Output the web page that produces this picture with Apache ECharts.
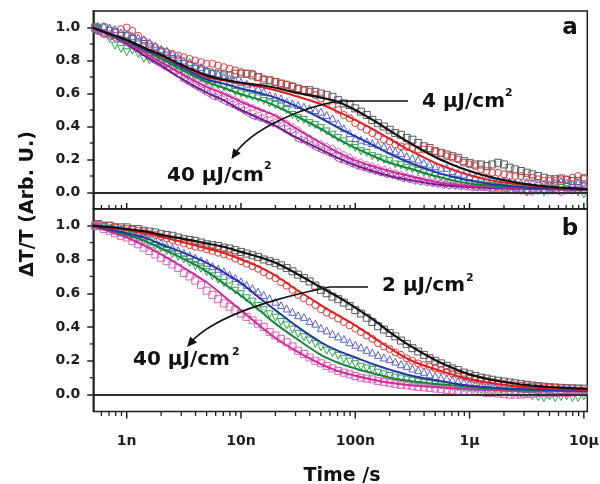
<!DOCTYPE html>
<html><head><meta charset="utf-8">
<script src="https://cdn.jsdelivr.net/npm/echarts@6/dist/echarts.min.js"></script>
<style>html,body{margin:0;padding:0;background:#fff}#c{width:600px;height:484px}</style>
</head><body><div id="c"></div>
<script>
// ---- sample times (ns) ----
const tNs = [0.53,0.56,0.63,0.71,0.79,0.89,
  1,1.12,1.26,1.41,1.58,1.78,2,2.24,2.51,2.82,3.16,3.55,3.98,4.47,5.01,5.62,6.31,7.08,7.94,8.91,
  10,11.2,12.6,14.1,15.8,17.8,20,22.4,25.1,28.2,31.6,35.5,39.8,44.7,50.1,56.2,63.1,70.8,79.4,89.1,
  100,112,126,141,158,178,200,224,251,282,316,355,398,447,501,562,631,708,794,891,
  1000,1120,1260,1410,1580,1780,2000,2240,2510,2820,3160,3550,3980,4470,5010,5620,6310,7080,7940,8910,10000];
const tFitNs = [0.5,0.75,1,1.5,2,3,5,7,10,15,20,30,50,70,100,150,200,300,500,700,1000,1500,2000,3000,5000,7000,10000,10800];

// ---- tick labels ----
const xTickLabels = {'-9':'1n','-8':'10n','-7':'100n','-6':'1μ','-5':'10μ'};
const xMajorTickNs = [1,10,100,1000,10000];
const xMinorTickNs = [0.6,0.7,0.8,0.9,2,3,4,5,6,7,8,9,20,30,40,50,60,70,80,90,200,300,400,500,600,700,800,900,2000,3000,4000,5000,6000,7000,8000,9000];
const yTickValues = [0,0.2,0.4,0.6,0.8,1.0];
const yTickLabels = ['0.0','0.2','0.4','0.6','0.8','1.0'];
const yMinorTicks = [0.1,0.3,0.5,0.7,0.9];

// ---- panel a: measured points ----
const aBlackPts = [1.00,0.99,1.00,0.98,0.97,0.95,0.95,0.93,0.91,0.90,
  0.88,0.86,0.85,0.83,0.81,0.80,0.78,0.77,0.75,0.74,
  0.73,0.72,0.72,0.71,0.71,0.72,0.72,0.72,0.71,0.70,
  0.68,0.68,0.67,0.66,0.65,0.64,0.63,0.62,0.62,0.61,
  0.60,0.59,0.58,0.56,0.54,0.53,0.51,0.49,0.47,0.44,
  0.42,0.40,0.38,0.36,0.35,0.33,0.32,0.30,0.28,0.27,
  0.25,0.24,0.23,0.22,0.21,0.19,0.18,0.17,0.17,0.16,
  0.17,0.18,0.17,0.15,0.14,0.13,0.12,0.11,0.10,0.09,
  0.08,0.08,0.085,0.075,0.07,0.07,0.08];
const aRedPts = [1.00,0.98,0.96,0.95,0.97,0.99,1.00,0.98,0.95,0.92,
  0.90,0.88,0.86,0.85,0.84,0.83,0.82,0.81,0.80,0.79,
  0.78,0.78,0.77,0.76,0.75,0.74,0.73,0.72,0.72,0.70,
  0.69,0.68,0.67,0.66,0.655,0.645,0.63,0.62,0.61,0.59,
  0.57,0.55,0.53,0.50,0.47,0.45,0.42,0.40,0.38,0.36,
  0.34,0.32,0.31,0.29,0.28,0.275,0.27,0.26,0.26,0.26,
  0.25,0.24,0.22,0.21,0.20,0.18,0.17,0.16,0.14,0.13,
  0.12,0.12,0.11,0.10,0.10,0.10,0.09,0.09,0.08,0.07,
  0.07,0.07,0.08,0.08,0.09,0.10,0.09];
const aBluePts = [1.00,1.01,1.01,1.00,0.99,0.97,0.96,0.95,0.94,0.93,
  0.91,0.89,0.87,0.86,0.84,0.82,0.80,0.79,0.77,0.76,
  0.74,0.73,0.72,0.70,0.69,0.68,0.67,0.66,0.64,0.63,
  0.61,0.59,0.58,0.57,0.55,0.54,0.53,0.52,0.51,0.50,
  0.49,0.47,0.45,0.42,0.39,0.36,0.33,0.32,0.31,0.30,
  0.29,0.28,0.26,0.25,0.24,0.22,0.21,0.20,0.18,0.17,
  0.16,0.15,0.15,0.13,0.12,0.11,0.10,0.095,0.09,0.085,
  0.08,0.075,0.07,0.065,0.06,0.06,0.065,0.06,0.06,0.05,
  0.05,0.06,0.07,0.06,0.05,0.06,0.05];
const aGreenPts = [1.00,0.98,0.96,0.93,0.89,0.87,0.85,0.86,0.84,0.81,
  0.80,0.81,0.80,0.78,0.77,0.75,0.73,0.72,0.70,0.69,
  0.67,0.66,0.65,0.64,0.63,0.61,0.60,0.59,0.58,0.57,
  0.555,0.54,0.53,0.52,0.50,0.47,0.45,0.44,0.42,0.41,
  0.39,0.37,0.35,0.33,0.31,0.29,0.27,0.25,0.24,0.22,
  0.21,0.20,0.19,0.17,0.165,0.15,0.14,0.13,0.12,0.11,
  0.10,0.09,0.08,0.07,0.065,0.06,0.05,0.05,0.045,0.04,
  0.04,0.035,0.03,0.03,0.02,0.01,0.00,0.01,0.01,0.00,
  0.02,0.02,0.03,0.02,0.01,0.00,-0.01];
const aMagentaPts = [0.99,0.98,0.97,0.96,0.94,0.93,0.91,0.89,0.87,0.85,
  0.83,0.81,0.79,0.78,0.76,0.74,0.72,0.70,0.68,0.66,
  0.64,0.62,0.61,0.60,0.58,0.565,0.55,0.53,0.515,0.50,
  0.485,0.47,0.46,0.44,0.42,0.40,0.38,0.35,0.33,0.31,
  0.295,0.28,0.27,0.25,0.23,0.215,0.195,0.185,0.17,0.16,
  0.15,0.14,0.13,0.12,0.11,0.10,0.09,0.085,0.075,0.07,
  0.065,0.06,0.055,0.05,0.045,0.04,0.035,0.03,0.03,0.03,
  0.02,0.02,0.02,0.01,0.01,0.01,0.00,0.00,0.01,0.02,
  0.01,0.01,0.00,0.01,0.02,0.01,0.02];
const aPurplePts = [0.98,0.97,0.96,0.95,0.93,0.92,0.90,0.88,0.86,0.84,
  0.81,0.79,0.77,0.75,0.73,0.71,0.68,0.66,0.64,0.62,
  0.60,0.58,0.57,0.55,0.535,0.52,0.50,0.48,0.46,0.45,
  0.44,0.42,0.41,0.39,0.37,0.35,0.32,0.31,0.29,0.27,
  0.255,0.24,0.225,0.20,0.19,0.175,0.16,0.15,0.14,0.13,
  0.12,0.11,0.105,0.095,0.085,0.08,0.07,0.065,0.06,0.055,
  0.05,0.045,0.04,0.04,0.035,0.035,0.03,0.03,0.03,0.025,
  0.02,0.02,0.02,0.015,0.02,0.02,0.01,0.015,0.02,0.01,
  0.02,0.01,0.01,0.02,0.02,0.02,0.03];

// ---- panel a: fitted curves ----
const aBlackFit = [1.0,0.955,0.925,0.87,0.835,0.775,0.71,0.685,0.665,0.65,0.635,0.605,0.575,0.55,0.50,0.43,0.375,0.30,0.215,0.17,0.13,0.095,0.075,0.052,0.035,0.028,0.022,0.02];
const aRedFit = [1.0,0.955,0.925,0.87,0.83,0.77,0.70,0.68,0.66,0.64,0.62,0.585,0.535,0.49,0.44,0.375,0.325,0.255,0.18,0.14,0.105,0.075,0.06,0.045,0.032,0.026,0.02,0.02];
const aBlueFit = [1.0,0.955,0.92,0.86,0.825,0.76,0.685,0.66,0.63,0.60,0.575,0.525,0.45,0.395,0.34,0.28,0.235,0.18,0.125,0.097,0.072,0.052,0.043,0.032,0.025,0.022,0.018,0.018];
const aGreenFit = [1.0,0.95,0.915,0.855,0.81,0.745,0.67,0.635,0.595,0.56,0.525,0.465,0.385,0.325,0.27,0.215,0.18,0.145,0.10,0.075,0.055,0.042,0.036,0.03,0.025,0.022,0.018,0.018];
const aMagentaFit = [1.0,0.95,0.91,0.84,0.79,0.72,0.64,0.60,0.55,0.50,0.465,0.39,0.30,0.245,0.195,0.155,0.13,0.10,0.066,0.05,0.04,0.035,0.03,0.027,0.023,0.02,0.018,0.018];
const aPurpleFit = [1.0,0.945,0.90,0.82,0.77,0.69,0.605,0.56,0.50,0.445,0.405,0.335,0.26,0.21,0.165,0.125,0.10,0.075,0.05,0.04,0.033,0.028,0.025,0.022,0.02,0.018,0.016,0.016];

// ---- panel b: measured points ----
const bBlackPts = [1.00,1.01,1.00,1.00,0.99,0.99,0.99,0.98,0.98,0.97,
  0.965,0.96,0.95,0.945,0.94,0.93,0.92,0.915,0.91,0.90,
  0.89,0.885,0.88,0.87,0.865,0.855,0.845,0.835,0.825,0.815,
  0.80,0.79,0.78,0.765,0.75,0.73,0.71,0.69,0.67,0.645,
  0.62,0.60,0.58,0.565,0.545,0.525,0.50,0.48,0.455,0.43,
  0.405,0.385,0.365,0.345,0.32,0.30,0.275,0.255,0.235,0.215,
  0.20,0.185,0.17,0.155,0.145,0.13,0.12,0.11,0.10,0.095,
  0.088,0.082,0.077,0.072,0.067,0.062,0.058,0.054,0.05,0.047,
  0.044,0.042,0.04,0.038,0.037,0.036,0.035];
const bRedPts = [1.00,1.01,1.00,1.00,0.99,0.98,0.98,0.975,0.97,0.96,
  0.95,0.945,0.935,0.925,0.915,0.905,0.895,0.885,0.875,0.87,
  0.86,0.85,0.84,0.83,0.82,0.805,0.79,0.775,0.76,0.745,
  0.725,0.705,0.69,0.665,0.645,0.62,0.59,0.57,0.55,0.53,
  0.505,0.485,0.47,0.45,0.43,0.41,0.39,0.37,0.35,0.33,
  0.305,0.285,0.27,0.25,0.235,0.215,0.20,0.185,0.175,0.165,
  0.155,0.145,0.135,0.125,0.115,0.105,0.095,0.088,0.082,0.077,
  0.072,0.067,0.062,0.058,0.055,0.052,0.049,0.047,0.045,0.043,
  0.041,0.04,0.038,0.037,0.036,0.035,0.034];
const bBluePts = [1.00,1.01,1.00,0.99,0.98,0.98,0.97,0.96,0.95,0.94,
  0.92,0.91,0.90,0.88,0.87,0.855,0.84,0.825,0.81,0.795,
  0.78,0.76,0.745,0.73,0.71,0.69,0.67,0.65,0.63,0.61,
  0.59,0.57,0.55,0.53,0.51,0.49,0.47,0.46,0.435,0.42,
  0.395,0.38,0.36,0.345,0.33,0.31,0.295,0.28,0.265,0.25,
  0.235,0.22,0.21,0.195,0.18,0.17,0.155,0.145,0.135,0.12,
  0.11,0.10,0.095,0.088,0.08,0.073,0.066,0.062,0.057,0.052,
  0.048,0.045,0.042,0.04,0.038,0.035,0.033,0.032,0.031,0.03,
  0.029,0.028,0.027,0.026,0.026,0.025,0.025];
const bGreenPts = [1.00,1.00,0.99,0.98,0.97,0.96,0.95,0.94,0.92,0.91,
  0.895,0.88,0.865,0.85,0.83,0.815,0.80,0.78,0.76,0.745,
  0.725,0.70,0.68,0.66,0.64,0.615,0.595,0.57,0.55,0.525,
  0.50,0.475,0.455,0.43,0.41,0.385,0.36,0.34,0.32,0.30,
  0.28,0.26,0.245,0.23,0.21,0.195,0.18,0.165,0.155,0.145,
  0.13,0.12,0.11,0.10,0.095,0.088,0.08,0.073,0.068,0.064,
  0.06,0.055,0.05,0.045,0.042,0.038,0.035,0.032,0.028,0.025,
  0.022,0.02,0.016,0.012,0.008,0.005,0.0,-0.01,-0.015,-0.02,
  -0.01,-0.02,-0.015,-0.01,-0.02,-0.02,-0.01];
const bMagentaPts = [1.00,1.00,0.98,0.97,0.955,0.94,0.93,0.91,0.89,0.87,
  0.85,0.83,0.81,0.79,0.77,0.75,0.72,0.70,0.675,0.65,
  0.615,0.59,0.565,0.54,0.52,0.50,0.48,0.46,0.44,0.42,
  0.40,0.37,0.35,0.33,0.31,0.285,0.26,0.24,0.22,0.20,
  0.185,0.17,0.155,0.14,0.13,0.12,0.11,0.10,0.095,0.09,
  0.08,0.075,0.07,0.063,0.058,0.055,0.05,0.046,0.043,0.04,
  0.036,0.032,0.028,0.025,0.022,0.02,0.02,0.017,0.014,0.01,
  0.01,0.007,0.004,0.0,0.0,0.0,0.003,0.006,0.01,0.01,
  0.006,0.01,0.012,0.01,0.013,0.016,0.02];

// ---- panel b: fitted curves ----
const bBlackFit = [1.0,0.99,0.98,0.965,0.945,0.925,0.895,0.875,0.845,0.81,0.78,0.72,0.635,0.58,0.515,0.435,0.37,0.29,0.205,0.16,0.12,0.09,0.075,0.058,0.045,0.04,0.035,0.034];
const bRedFit = [1.0,0.985,0.975,0.955,0.935,0.905,0.865,0.84,0.80,0.75,0.705,0.625,0.53,0.47,0.41,0.33,0.275,0.205,0.15,0.12,0.09,0.07,0.058,0.045,0.036,0.032,0.028,0.027];
const bBlueFit = [1.0,0.975,0.955,0.925,0.89,0.845,0.78,0.725,0.66,0.565,0.50,0.41,0.31,0.26,0.22,0.175,0.148,0.115,0.085,0.068,0.052,0.042,0.036,0.031,0.027,0.025,0.023,0.023];
const bGreenFit = [1.0,0.97,0.945,0.905,0.865,0.81,0.73,0.66,0.585,0.49,0.42,0.335,0.235,0.19,0.155,0.122,0.10,0.08,0.063,0.055,0.045,0.037,0.033,0.028,0.025,0.023,0.021,0.021];
const bMagentaFit = [1.0,0.96,0.93,0.875,0.83,0.76,0.665,0.585,0.50,0.40,0.335,0.26,0.18,0.14,0.112,0.085,0.07,0.056,0.045,0.038,0.032,0.028,0.025,0.022,0.02,0.02,0.02,0.02];

// ---- rendering ----
const FONT = '"DejaVu Sans", "Liberation Sans", Arial, sans-serif';
const AX = '#1e1e1e';
const X_MIN = 5.1e-10, X_MAX = 1.072e-5;
const pts = vals => vals.map((v, i) => [tNs[i] * 1e-9, v]);
const fit = vals => vals.map((v, i) => [tFitNs[i] * 1e-9, v]);

const xLabel = v => {
  const l = Math.log10(v), r = Math.round(l);
  if (Math.abs(l - r) > 1e-3) return '';
  return xTickLabels[String(r)] || '';
};
const yLabel = v => {
  for (let i = 0; i < yTickValues.length; i++) if (Math.abs(v - yTickValues[i]) < 1e-6) return yTickLabels[i];
  return '';
};

const C = {
  blackM:'#5a5a5a', redM:'#e8383d', blueM:'#5565c8', greenM:'#2fa552', magM:'#e262b6', purM:'#a850b8',
  blackL:'#111111', redL:'#e01f1f', blueL:'#2636a8', greenL:'#10883a', magL:'#d02a9c', purL:'#7a1a8c'
};

function marker(grid, data, color, symbol, rot) {
  return { type:'scatter', xAxisIndex:grid, yAxisIndex:grid, data:pts(data), symbol:symbol, symbolSize:7,
    symbolRotate: rot || 0, silent:true, clip:true,
    itemStyle:{ color:'rgba(0,0,0,0)', borderColor:color, borderWidth:1, opacity:1 } };
}
function fitLine(grid, data, color, w) {
  return { type:'line', xAxisIndex:grid, yAxisIndex:grid, data:fit(data), showSymbol:false, symbol:'none',
    smooth:0.35, silent:true, clip:true, lineStyle:{ color:color, width:w || 2 } };
}
function tickSeries(grid, values, isX, size, offset, withZero) {
  const data = isX ? values.map(t => [t * 1e-9, -0.1]) : values.map(v => [X_MIN, v]);
  const s = { type:'scatter', xAxisIndex:grid, yAxisIndex:grid, data:data, symbol:'rect', symbolSize:size,
    symbolOffset:offset, silent:true, clip:false, z:5, itemStyle:{ color:AX, opacity:1 } };
  if (withZero) s.markLine = { silent:true, symbol:'none', label:{show:false}, animation:false,
    lineStyle:{ color:AX, width:1.5, type:'solid' }, data:[{ yAxis:0 }] };
  return s;
}

function xAxisCfg(grid, showLabels) {
  return { gridIndex:grid, type:'log', logBase:10, min:X_MIN, max:X_MAX,
    axisLine:{ show:true, lineStyle:{ color:AX, width:1.5 } }, axisTick:{ show:false },
    minorTick:{ show:false }, splitLine:{ show:false }, minorSplitLine:{ show:false },
    axisLabel:{ show:showLabels, formatter:xLabel, color:AX, fontFamily:FONT, fontWeight:'bold', fontSize:14, margin:23 } };
}
function yAxisCfg(grid) {
  return { gridIndex:grid, type:'value', min:-0.1, max:1.1,
    axisLine:{ show:true, lineStyle:{ color:AX, width:1.5 } },
    axisTick:{ show:true, inside:false, length:6, lineStyle:{ color:AX, width:1.5 }, customValues:yTickValues },
    splitLine:{ show:false },
    axisLabel:{ show:true, customValues:yTickValues, formatter:yLabel, color:AX, fontFamily:FONT, fontWeight:'bold', fontSize:14, margin:13 } };
}

// annotation helpers
function arrowHead(tip, from, len, half) {
  const dx = tip[0] - from[0], dy = tip[1] - from[1], d = Math.hypot(dx, dy);
  const ux = dx / d, uy = dy / d, bx = tip[0] - ux * len, by = tip[1] - uy * len;
  return { type:'polygon', shape:{ points:[tip, [bx - uy * half, by + ux * half], [bx + uy * half, by - ux * half]] },
    style:{ fill:'#111' }, silent:true, z:100 };
}
function txt(x, y, text, size, align, extra) {
  return Object.assign({ type:'text', x:x, y:y, silent:true, z:100,
    style:{ text:text, font:'bold ' + size + 'px ' + FONT, fill:'#111',
      align:align || 'left', verticalAlign:'middle', textAlign:align || 'left', textVerticalAlign:'middle' } }, extra || {});
}
const lineStyle = { stroke:'#111', lineWidth:1.6, fill:null };

const graphics = [
  // panel a annotation
  { type:'polyline', shape:{ points:[[408,101],[340,101]] }, style:lineStyle, silent:true, z:100 },
  { type:'bezierCurve', shape:{ x1:340, y1:101, cpx1:305, cpy1:106, cpx2:252, cpy2:128, x2:234, y2:155 }, style:lineStyle, silent:true, z:100 },
  arrowHead([231.5, 159], [252, 128], 10, 4.5),
  txt(422, 102, '4 μJ/cm', 20), txt(505, 93, '2', 11),
  txt(167, 175.5, '40 μJ/cm', 20), txt(264, 166.5, '2', 11),
  txt(570, 28.5, 'a', 23, 'center'),
  // panel b annotation
  { type:'polyline', shape:{ points:[[368,287],[330,287]] }, style:lineStyle, silent:true, z:100 },
  { type:'bezierCurve', shape:{ x1:330, y1:287, cpx1:280, cpy1:297, cpx2:215, cpy2:315, x2:190, y2:343 }, style:lineStyle, silent:true, z:100 },
  arrowHead([187, 347], [215, 315], 10, 4.5),
  txt(382, 285.5, '2 μJ/cm', 20), txt(466, 278.5, '2', 11),
  txt(133, 359.5, '40 μJ/cm', 20), txt(232, 352, '2', 11),
  txt(570, 229, 'b', 23, 'center'),
  // axis titles
  txt(28, 204, 'ΔT/T (Arb. U.)', 19, 'center', { rotation: Math.PI / 2 }),
  txt(342, 476, 'Time /s', 19, 'center')
];

const series = [
  // panel a markers
  marker(0, aBlackPts, C.blackM, 'rect'),
  marker(0, aRedPts, C.redM, 'circle'),
  marker(0, aBluePts, C.blueM, 'triangle'),
  marker(0, aGreenPts, C.greenM, 'triangle', 180),
  marker(0, aMagentaPts, C.magM, 'diamond'),
  marker(0, aPurplePts, C.purM, 'triangle', 90),
  // panel b markers
  marker(1, bBlackPts, C.blackM, 'rect'),
  marker(1, bRedPts, C.redM, 'circle'),
  marker(1, bBluePts, C.blueM, 'triangle'),
  marker(1, bGreenPts, C.greenM, 'triangle', 180),
  marker(1, bMagentaPts, C.magM, 'rect'),
  // panel a fits
  fitLine(0, aPurpleFit, C.purL),
  fitLine(0, aMagentaFit, C.magL),
  fitLine(0, aGreenFit, C.greenL),
  fitLine(0, aBlueFit, C.blueL),
  fitLine(0, aRedFit, C.redL),
  fitLine(0, aBlackFit, C.blackL, 2.2),
  // panel b fits
  fitLine(1, bMagentaFit, C.magL),
  fitLine(1, bGreenFit, C.greenL),
  fitLine(1, bBlueFit, C.blueL),
  fitLine(1, bRedFit, C.redL),
  fitLine(1, bBlackFit, C.blackL, 2.2),
  // ticks drawn as marks on the axes (x ticks of panel a point inward, panel b outward)
  tickSeries(0, xMajorTickNs, true, [1.5, 6], [0, -3], true),
  tickSeries(0, xMinorTickNs, true, [1.3, 4], [0, -2], false),
  tickSeries(1, xMajorTickNs, true, [1.5, 7], [0, 3.5], true),
  tickSeries(1, xMinorTickNs, true, [1.3, 4.5], [0, 2.25], false),
  tickSeries(0, yMinorTicks, false, [3.5, 1.3], [-1.75, 0], false),
  tickSeries(1, yMinorTicks, false, [3.5, 1.3], [-1.75, 0], false)
];

const chart = echarts.init(document.getElementById('c'), null, { renderer:'canvas', width:600, height:484 });
chart.setOption({
  animation:false,
  backgroundColor:'#ffffff',
  grid:[
    { left:93.3, top:11, width:494, height:198, show:true, borderColor:AX, borderWidth:1.5, backgroundColor:'rgba(0,0,0,0)', containLabel:false, outerBoundsMode:'none' },
    { left:93.3, top:208.8, width:494, height:202.7, show:true, borderColor:AX, borderWidth:1.5, backgroundColor:'rgba(0,0,0,0)', containLabel:false, outerBoundsMode:'none' }
  ],
  xAxis:[ xAxisCfg(0, false), xAxisCfg(1, true) ],
  yAxis:[ yAxisCfg(0), yAxisCfg(1) ],
  series:series,
  graphic:{ elements:graphics }
});
</script>
</body></html>
